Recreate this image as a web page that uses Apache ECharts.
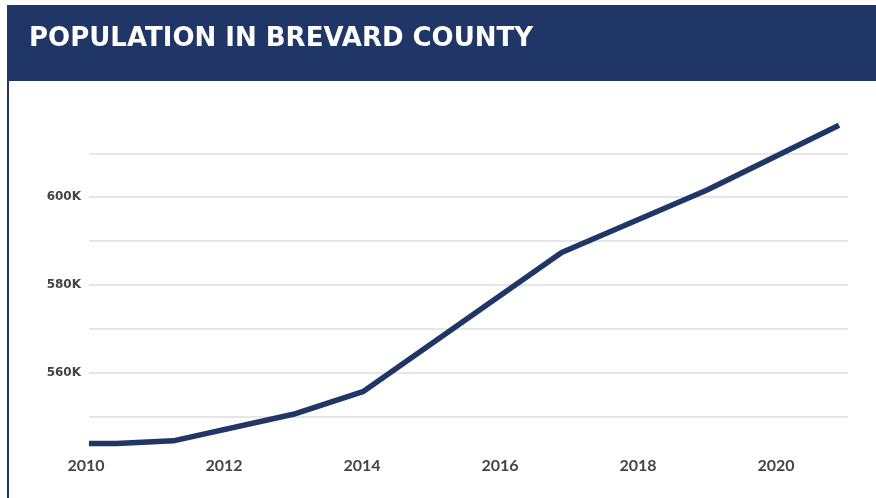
<!DOCTYPE html>
<html>
<head>
<meta charset="utf-8">
<script src="https://cdn.jsdelivr.net/npm/echarts@6/dist/echarts.min.js"></script>
<style>
  html, body { margin: 0; padding: 0; background: #fff; }
  #chart { width: 876px; height: 498px; }
</style>
</head>
<body>
<div id="chart"></div>
<script>
// Brevard County population, read at the turning points of the line
const years = [2010.0, 2010.4, 2011.22, 2012.96, 2013.97, 2016.85, 2018.95, 2020.87];
const population = [543900, 543900, 544500, 550550, 555700, 587400, 601600, 616400];

// Axis ticks
const yearTicks = [2010, 2012, 2014, 2016, 2018, 2020];
const populationLabels = [560000, 580000, 600000];

const titleText = 'POPULATION IN BREVARD COUNTY';
const navy = '#1f3666';

const chart = echarts.init(document.getElementById('chart'), null, { renderer: 'canvas' });

chart.setOption({
  animation: false,
  backgroundColor: '#ffffff',
  graphic: [
    { type: 'rect', shape: { x: 7, y: 5, width: 869, height: 76 }, style: { fill: navy }, silent: true },
    { type: 'rect', shape: { x: 7, y: 81, width: 2, height: 417 }, style: { fill: navy }, silent: true },
    {
      type: 'text', left: 29, top: 26,
      style: {
        text: titleText,
        fill: '#ffffff',
        font: 'bold 26px "DejaVu Sans"'
      }
    }
  ],
  grid: { left: 89, right: 28, top: 109.4, bottom: 37.4 },
  xAxis: {
    type: 'value',
    min: 2010,
    max: 2021,
    interval: 1,
    axisLine: { show: false },
    axisTick: { show: false },
    splitLine: { show: false },
    axisLabel: {
      margin: -3,
      color: '#444444',
      fontFamily: 'Lato',
      fontWeight: 'bold',
      fontSize: 16,
      padding: [0, 6, 0, 0],
      showMaxLabel: false,
      formatter: v => (yearTicks.indexOf(v) >= 0 ? String(v) : '')
    }
  },
  yAxis: {
    type: 'value',
    min: 540000,
    max: 620000,
    interval: 10000,
    axisLine: { show: false },
    axisTick: { show: false },
    splitLine: {
      show: true,
      showMinLine: false,
      showMaxLine: false,
      lineStyle: { color: '#e6e6e6', width: 2 }
    },
    axisLabel: {
      margin: 8,
      color: '#444444',
      fontFamily: 'DejaVu Sans',
      fontWeight: 'bold',
      fontSize: 12,
      formatter: v => (populationLabels.indexOf(v) >= 0 ? (v / 1000) + 'K' : '')
    }
  },
  series: [{
    type: 'line',
    data: years.map((y, i) => [y, population[i]]),
    showSymbol: false,
    lineStyle: { color: navy, width: 5.5, join: 'round' },
    silent: true
  }]
});
</script>
</body>
</html>
